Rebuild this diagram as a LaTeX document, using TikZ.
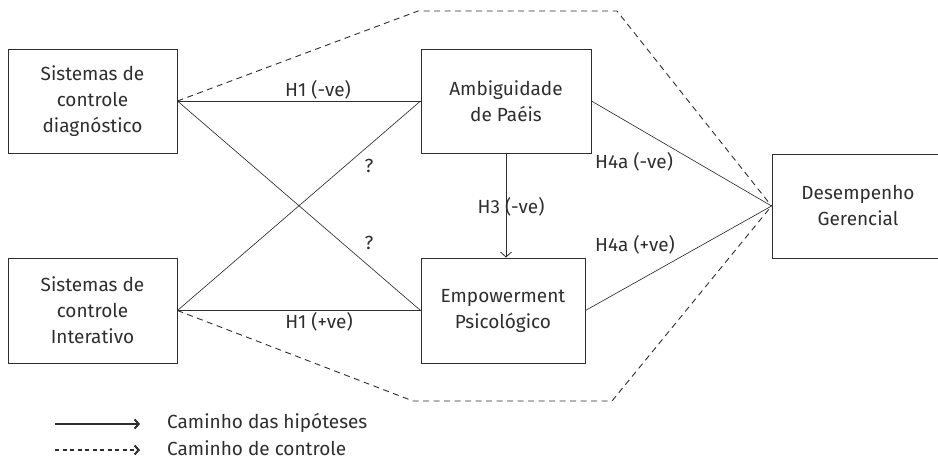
\documentclass[tikz,border=0pt]{standalone}
\usepackage{fontspec}
\setmainfont{Fira Sans}
\usetikzlibrary{arrows.meta}
\definecolor{ink}{HTML}{2e2e2e}
\begin{document}
\begin{tikzpicture}[x=1pt,y=-1pt,
  every node/.style={text=ink},
  box/.style={draw=ink, line width=0.9pt, inner sep=0pt, align=center,
    font=\fontsize{19}{26}\selectfont},
  lbl/.style={inner sep=0pt, font=\fontsize{19}{26}\selectfont},
  link/.style={draw=ink, line width=0.65pt},
  ctrl/.style={draw=ink, line width=0.9pt, dash pattern=on 6pt off 4.5pt},
  legtip/.style={-{Straight Barb[length=4pt,width=9pt,line width=2pt]}},
]
\useasboundingbox (0,0) rectangle (938,459);
% boxes
\node[box, minimum width=169pt, minimum height=104pt] (sd) at (92.5,101) {Sistemas de\\controle\\diagnóstico};
\node[box, minimum width=169pt, minimum height=105pt] (si) at (92.5,310.5) {Sistemas de\\controle\\Interativo};
\node[box, minimum width=170pt, minimum height=104pt] (amb) at (506,101) {Ambiguidade\\de Paéis};
\node[box, minimum width=164pt, minimum height=105pt] (emp) at (503,310.5) {Empowerment\\Psicológico};
\node[box, minimum width=172pt, minimum height=104pt] (dg) at (858,206) {Desempenho\\Gerencial};
% control paths
\coordinate (t1) at (418,11);
\coordinate (t2) at (617,11);
\coordinate (b1) at (413,401);
\coordinate (b2) at (612,401);
\draw[ctrl] (sd.east) -- (t1) -- (t2) -- (dg.west);
\draw[ctrl] (si.east) -- (b1) -- (b2) -- (dg.west);
% hypothesis paths
\draw[link] (sd.east) -- (amb.west);
\draw[link] (sd.east) -- (emp.west);
\draw[link] (si.east) -- (amb.west);
\draw[link] (si.east) -- (emp.west);
\draw[link] (amb.east) -- (dg.west);
\draw[link] (emp.east) -- (dg.west);
\draw[link, -{Straight Barb[length=5pt,width=11pt,line width=0.8pt]}] (amb.south) -- (amb.south |- emp.north);
% labels
\node[lbl] (l1) at (318,90) {H1 (-ve)};
\node[lbl] (q1) at (369,166) {?};
\node[lbl] (q2) at (369,243) {?};
\node[lbl] (l2) at (319,322) {H1 (+ve)};
\node[lbl] (l3) at (511,207) {H3 (-ve)};
\node[lbl] (l4) at (634,162) {H4a (-ve)};
\node[lbl] (l5) at (635,245) {H4a (+ve)};
% legend
\coordinate (ls1) at (55,424);
\coordinate (le1) at (140,424);
\coordinate (ls2) at (55,450);
\coordinate (le2) at (140,450);
\draw[draw=ink, line width=1.8pt, legtip] (ls1) -- (le1);
\draw[draw=ink, line width=1.4pt, dash pattern=on 4pt off 3.5pt, legtip] (ls2) -- (le2);
\node[lbl, anchor=west] (lg1) at (167,423) {Caminho das hipóteses};
\node[lbl, anchor=west] (lg2) at (167,448.5) {Caminho de controle};
\end{tikzpicture}
\end{document}
